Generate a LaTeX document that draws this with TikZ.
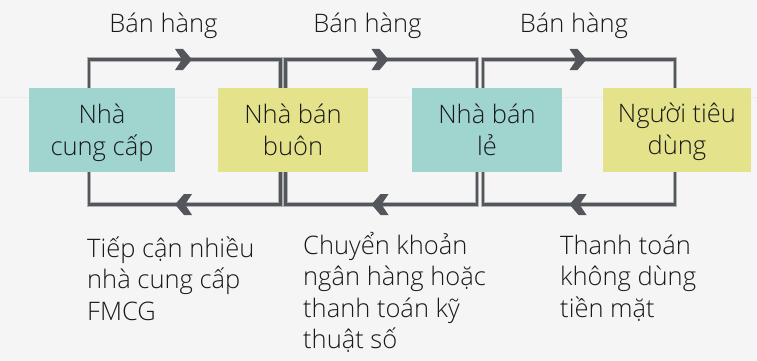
\documentclass[tikz,border=0pt]{standalone}
\usepackage{fontspec}
\IfFontExistsTF{Open Sans Light}{\setmainfont{Open Sans Light}}{\setmainfont{Open Sans}}
\definecolor{bgc}{HTML}{F5F5F5}
\definecolor{linec}{HTML}{53575B}
\definecolor{tealc}{HTML}{9FD4CF}
\definecolor{yelc}{HTML}{E4E38B}
\definecolor{txtc}{HTML}{1A1A1A}
\begin{document}
\begin{tikzpicture}[x=1pt,y=-1pt,
  flow/.style={draw=linec,line width=2.6pt,
    preaction={draw=linec!45,line width=4.6pt}},
  box/.style={rectangle,inner sep=0pt,minimum height=84pt},
  lbl/.style={inner sep=0pt,font=\fontsize{25.5}{31.5}\selectfont,text=txtc},
  chevr/.pic={\fill[linec] (-8.5,-10.5) -- (-0.5,-10.5) -- (8.5,0) -- (-0.5,10.5) -- (-8.5,10.5) -- (-1.5,0) -- cycle;}
]
\fill[bgc] (0,0) rectangle (757,361);
\useasboundingbox (0,0) rectangle (757,361);
\draw[draw=black!7,line width=1pt] (0,97) -- (757,97);

% loop end points
\coordinate (t1a) at (89,88);    \coordinate (t1b) at (280.5,88);
\coordinate (t2a) at (285.5,88); \coordinate (t2b) at (477,88);
\coordinate (t3a) at (483,88);   \coordinate (t3b) at (675,88);
\coordinate (b1a) at (89,172);    \coordinate (b1b) at (280.5,172);
\coordinate (b2a) at (285.5,172); \coordinate (b2b) at (477,172);
\coordinate (b3a) at (483,172);   \coordinate (b3b) at (675,172);

\draw[flow] (t1a) -- ++(0,-28.5) -| (t1b);
\draw[flow] (t2a) -- ++(0,-28.5) -| (t2b);
\draw[flow] (t3a) -- ++(0,-28.5) -| (t3b);
\draw[flow] (b1a) -- ++(0,32.5) -| (b1b);
\draw[flow] (b2a) -- ++(0,32.5) -| (b2b);
\draw[flow] (b3a) -- ++(0,32.5) -| (b3b);

\pic at (183.5,59.5) {chevr};
\pic at (380,59.5) {chevr};
\pic at (578,59.5) {chevr};
\pic[xscale=-1] at (183.5,204.5) {chevr};
\pic[xscale=-1] at (380,204.5) {chevr};
\pic[xscale=-1] at (578,204.5) {chevr};

\node[box,fill=tealc,minimum width=146pt] (n1) at (102,130) {};
\node[box,fill=yelc,minimum width=150pt] (n2) at (293,130) {};
\node[box,fill=tealc,minimum width=150pt] (n3) at (487,130) {};
\node[box,fill=yelc,minimum width=148pt] (n4) at (677,130) {};

\node[lbl,anchor=base,align=center,font=\fontsize{25.5}{32}\selectfont] (l1) at (n1.center |- 0,155) {Nhà\\cung cấp};
\node[lbl,anchor=base,align=center,font=\fontsize{25.5}{32}\selectfont] (l2) at (n2.center |- 0,155) {Nhà bán\\buôn};
\node[lbl,anchor=base,align=center,font=\fontsize{25.5}{32}\selectfont] (l3) at (n3.center |- 0,155) {Nhà bán\\lẻ};
\node[lbl,anchor=base,align=center,font=\fontsize{25.5}{32}\selectfont] (l4) at (n4.center |- 0,154) {Người tiêu\\dùng};

\node[lbl,anchor=base] (s1) at (163.5,33) {Bán hàng};
\node[lbl,anchor=base] (s2) at (367.5,33) {Bán hàng};
\node[lbl,anchor=base] (s3) at (574,33) {Bán hàng};

\node[lbl,anchor=base west,align=left] (p1) at (87,320) {Tiếp cận nhiều\\nhà cung cấp\\FMCG};
\node[lbl,anchor=base west,align=left] (p2) at (303,348.5) {Chuyển khoản\\ngân hàng hoặc\\thanh toán kỹ\\thuật số};
\node[lbl,anchor=base west,align=left] (p3) at (560,317) {Thanh toán\\không dùng\\tiền mặt};
\end{tikzpicture}
\end{document}
